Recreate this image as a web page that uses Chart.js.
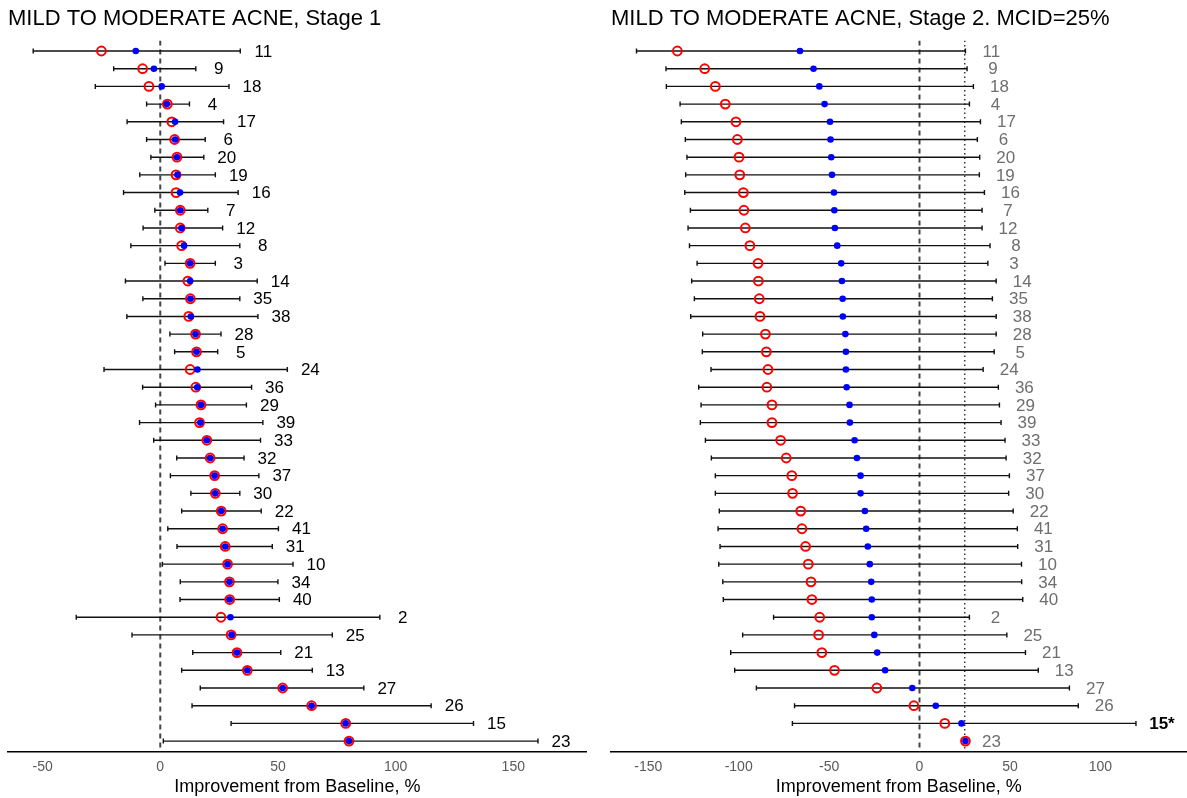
<!DOCTYPE html>
<html>
<head>
<meta charset="utf-8">
<script src="https://cdn.jsdelivr.net/npm/chart.js@4.4.1/dist/chart.umd.min.js"></script>
<style>
  html, body { margin: 0; padding: 0; background: #fff; overflow: hidden; }
  canvas { position: absolute; top: 0; }
  #stage1 { left: 0; }
  #stage2 { left: 600px; }
</style>
</head>
<body>
<canvas id="stage1" width="600" height="798"></canvas>
<canvas id="stage2" width="593" height="798"></canvas>
<script>
// study ids, top to bottom (same order in both panels)
const studies = ['11','9','18','4','17','6','20','19','16','7','12','8','3','14','35','38','28','5','24','36',
  '29','39','33','32','37','30','22','41','31','10','34','40','2','25','21','13','27','26','15','23'];

// Stage 1
const s1Ticks = [-50, 0, 50, 100, 150];
const s1Red = [-25, -7.5, -4.8, 3, 4.9, 6.1, 7.1, 6.7, 6.7, 8.5, 8.5, 9.1, 12.7, 11.7, 12.8, 12.1, 15, 15.4, 12.7, 15.1,
  17.3, 16.7, 19.8, 21.2, 23.1, 23.4, 25.9, 26.5, 27.6, 28.6, 29.4, 29.5, 25.8, 30.1, 32.6, 37, 52, 64.3, 78.8, 80.2];
const s1Blue = [-10.4, -2.7, 0.6, 2.8, 6.3, 6.3, 7.1, 7.3, 8.4, 8.5, 9, 10.1, 12.7, 12.7, 12.8, 13, 15, 15.4, 15.8, 15.7,
  17.3, 17, 19.8, 21.2, 23.1, 23.4, 25.9, 26.5, 27.6, 28.6, 29.4, 29.5, 29.8, 30.3, 32.6, 37, 52, 64.3, 78.8, 80.2];
const s1Low = [-54, -19.8, -27.6, -5.8, -14.1, -5.8, -4, -8.7, -15.6, -2.3, -7.3, -12.5, 2, -14.8, -7.4, -14.2, 4.1, 6.1, -23.9, -7.5,
  -2, -8.8, -2.8, 7, 4.3, 13, 9.1, 3.2, 7.1, 0.9, 8.5, 8.4, -35.7, -12, 13.8, 9.1, 17, 13.5, 30.1, 1.3];
const s1High = [34, 15.1, 29.2, 12.4, 26.9, 19.1, 18.5, 23.4, 33.1, 20.2, 26.5, 33.8, 23.4, 41.2, 33.8, 41.5, 25.8, 24.4, 54, 38.8,
  36.6, 43.6, 42.6, 35.6, 41.9, 33.8, 42.9, 50.2, 47.6, 56.4, 50, 50.6, 93.3, 73.1, 51.2, 64.6, 86.5, 115.1, 133.1, 160.5];

// Stage 2
const s2Ticks = [-150, -100, -50, 0, 50, 100];
const s2Labels = ['11','9','18','4','17','6','20','19','16','7','12','8','3','14','35','38','28','5','24','36',
  '29','39','33','32','37','30','22','41','31','10','34','40','2','25','21','13','27','26','15*','23'];
const s2Red = [-133.9, -118.8, -112.9, -107.4, -101.5, -100.7, -99.8, -99.4, -97.4, -97.1, -96.3, -93.8, -89.3, -89.1, -88.6, -88.2, -85.2, -84.7, -83.8, -84.4,
  -81.6, -81.6, -76.8, -73.7, -70.6, -70.2, -65.7, -65, -63, -61.5, -60, -59.5, -55.2, -55.8, -54, -47, -23.6, -3.1, 14, 25.4];
const s2Blue = [-66.1, -58.6, -55.4, -52.5, -49.5, -49.2, -48.8, -48.4, -47.3, -47.1, -46.8, -45.5, -43.3, -42.9, -42.5, -42.4, -41, -40.7, -40.7, -40.3,
  -38.7, -38.5, -35.9, -34.6, -32.6, -32.6, -30.2, -29.5, -28.6, -27.5, -26.7, -26.4, -26.4, -25, -23.4, -19, -4, 9, 23.2, 25.4];
const s2Low = [-156.5, -140.2, -140, -132.4, -131.7, -129.5, -128.6, -129.3, -129.8, -126.7, -128, -127.2, -123, -126, -124.5, -126.5, -119.9, -120.1, -115.3, -122.1,
  -120.8, -121.2, -118.4, -115.1, -112.9, -112.9, -110.7, -111.4, -110.3, -111, -108.8, -108.5, -80.7, -97.8, -104.4, -102.2, -90.2, -69.1, -70.3, null];
const s2High = [25.4, 26.3, 29.8, 27.6, 33.7, 32, 33.3, 33.1, 35.9, 34.6, 34.6, 39, 37.8, 42.4, 40.3, 42.4, 42.4, 41.3, 35.2, 43.6,
  44.2, 45.1, 47.3, 47.9, 49.7, 49.3, 51.8, 54.1, 54.3, 56.4, 56.5, 57.1, 27.6, 48.3, 58.6, 65.7, 82.9, 87.8, 119.7, null];

const MCID = 25;
const FONT = "'Liberation Sans', Arial, sans-serif";
Chart.defaults.font.family = FONT;

const Y_MIN = 0.4, Y_MAX = studies.length + 0.6;

function forest(canvasId, cfg) {
  const datasets = [];
  datasets.push({
    data: cfg.blue.map((v, i) => ({ x: v, y: i + 1 })),
    pointRadius: 3.3, pointBackgroundColor: '#0000ff', pointBorderWidth: 0, order: 0
  });
  datasets.push({
    data: cfg.red.map((v, i) => ({ x: v, y: i + 1 })),
    pointRadius: 4.4, pointBackgroundColor: 'rgba(0,0,0,0)', pointBorderColor: '#ff0000', pointBorderWidth: 2, order: 1
  });
  cfg.low.forEach((lo, i) => {
    if (lo === null) return;
    datasets.push({
      data: [{ x: lo, y: i + 1 }, { x: cfg.high[i], y: i + 1 }],
      showLine: true, borderColor: '#111', borderWidth: 1.4,
      pointStyle: 'line', rotation: 90, pointRadius: 2.5, pointBorderWidth: 1.4, pointBorderColor: '#111', order: 2
    });
  });
  datasets.push({
    data: [{ x: 0, y: Y_MIN }, { x: 0, y: Y_MAX }],
    showLine: true, borderColor: '#444', borderWidth: 2, borderDash: [5, 4], pointRadius: 0, order: 3
  });
  if (cfg.mcid !== undefined) {
    datasets.push({
      data: [{ x: cfg.mcid, y: Y_MIN }, { x: cfg.mcid, y: Y_MAX }],
      showLine: true, borderColor: '#333', borderWidth: 1.5, borderDash: [1.5, 3], pointRadius: 0, order: 3
    });
  }

  const labelPlugin = {
    id: 'studyLabels',
    afterDatasetsDraw(chart) {
      const { ctx, scales: { x, y } } = chart;
      ctx.save();
      ctx.textAlign = 'center';
      ctx.textBaseline = 'middle';
      cfg.labels.forEach((lab, i) => {
        const anchor = cfg.high[i] !== null ? cfg.high[i] : cfg.red[i];
        const bold = lab.endsWith('*');
        ctx.font = (bold ? 'bold ' : '') + '17px ' + FONT;
        ctx.fillStyle = bold ? '#000' : cfg.labelColor;
        ctx.fillText(lab, x.getPixelForValue(anchor) + cfg.labelOffset, y.getPixelForValue(i + 1) + 1);
      });
      ctx.restore();
    }
  };

  return new Chart(document.getElementById(canvasId), {
    type: 'scatter',
    data: { datasets },
    options: {
      responsive: false,
      animation: false,
      events: [],
      layout: { padding: cfg.padding },
      plugins: {
        legend: { display: false },
        tooltip: { enabled: false },
        title: {
          display: true, text: cfg.title, align: 'start', color: '#000',
          font: { size: 22, weight: 'normal' }, padding: { top: 6, bottom: 8 }
        }
      },
      scales: {
        x: {
          type: 'linear', min: cfg.xMin, max: cfg.xMax,
          afterBuildTicks: (s) => { s.ticks = cfg.ticks.map(v => ({ value: v })); },
          ticks: { color: '#5a5a5a', font: { size: 14 }, padding: 6.6, maxRotation: 0, autoSkip: false },
          grid: { display: false, drawTicks: false },
          border: { display: true, color: '#000', width: 1.5 },
          title: {
            display: true, text: 'Improvement from Baseline, %', color: '#000',
            font: { size: 18 }, padding: { top: -5.3, bottom: 0 }
          }
        },
        y: { type: 'linear', min: Y_MIN, max: Y_MAX, reverse: true, display: false }
      }
    },
    plugins: [labelPlugin]
  });
}

forest('stage1', {
  title: 'MILD TO MODERATE ACNE, Stage 1',
  labels: studies, red: s1Red, blue: s1Blue, low: s1Low, high: s1High, ticks: s1Ticks,
  xMin: -64.7, xMax: 181.2,
  labelColor: '#000', labelOffset: 23,
  padding: { left: 8, right: 13.3, top: 0, bottom: 0 }
});

forest('stage2', {
  title: 'MILD TO MODERATE ACNE, Stage 2. MCID=25%',
  labels: s2Labels, red: s2Red, blue: s2Blue, low: s2Low, high: s2High, ticks: s2Ticks,
  xMin: -170.6, xMax: 147.7, mcid: MCID,
  labelColor: '#6e6e6e', labelOffset: 26,
  padding: { left: 11, right: 0, top: 0, bottom: 0 }
});
</script>
</body>
</html>
